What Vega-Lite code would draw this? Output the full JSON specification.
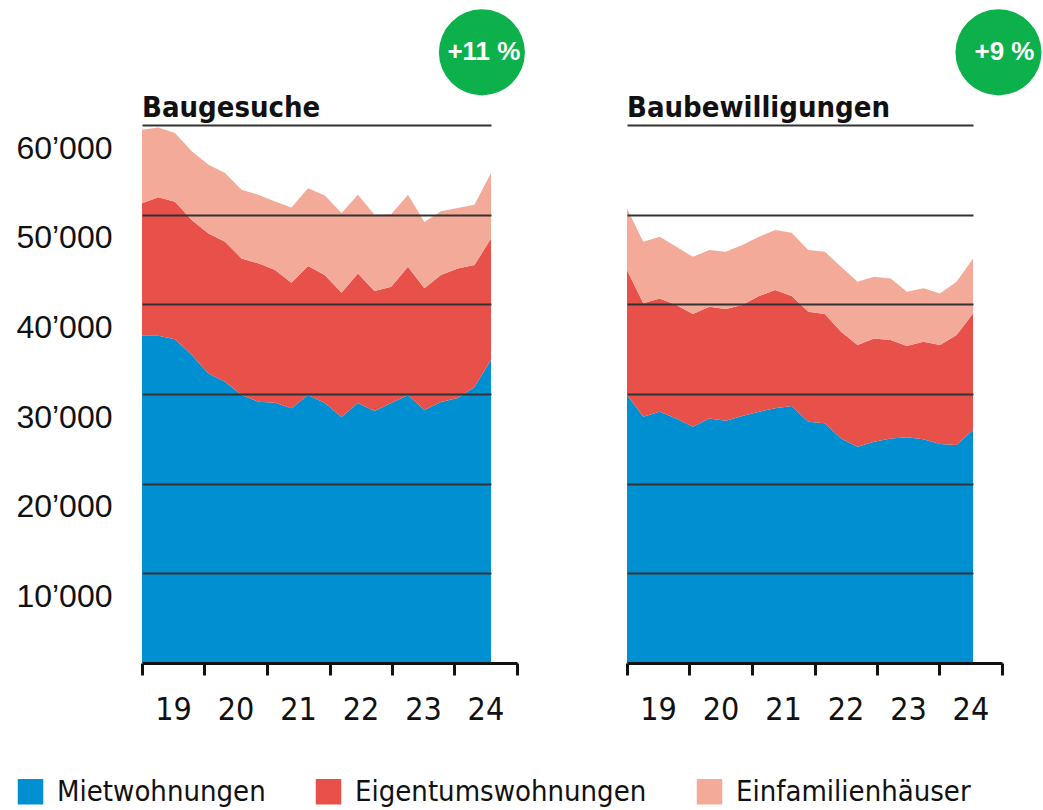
{
  "$schema": "https://vega.github.io/schema/vega-lite/v6.json",
  "padding": {"left": 15, "top": 9, "right": 0, "bottom": 0},
  "background": "white",
  "spacing": 77,
  "config": {"view": {"stroke": null}, "font": "Liberation Sans"},
  "datasets": {
    "typen": [
      {"typ": "Mietwohnungen", "rang": 1},
      {"typ": "Eigentumswohnungen", "rang": 2},
      {"typ": "Einfamilienhäuser", "rang": 3}
    ],
    "jahre": [
      {"jahr": "2019-01-01"}, {"jahr": "2020-01-01"}, {"jahr": "2021-01-01"}, {"jahr": "2022-01-01"},
      {"jahr": "2023-01-01"}, {"jahr": "2024-01-01"}, {"jahr": "2025-01-01"}
    ],
    "baugesuche": [
      {"quartal": "2019-01-01", "Mietwohnungen": 36500, "Eigentumswohnungen": 14760, "Einfamilienhäuser": 8200},
      {"quartal": "2019-04-01", "Mietwohnungen": 36500, "Eigentumswohnungen": 15430, "Einfamilienhäuser": 7800},
      {"quartal": "2019-07-01", "Mietwohnungen": 36100, "Eigentumswohnungen": 15340, "Einfamilienhäuser": 7660},
      {"quartal": "2019-10-01", "Mietwohnungen": 34340, "Eigentumswohnungen": 15060, "Einfamilienhäuser": 7660},
      {"quartal": "2020-01-01", "Mietwohnungen": 32300, "Eigentumswohnungen": 15610, "Einfamilienhäuser": 7650},
      {"quartal": "2020-04-01", "Mietwohnungen": 31370, "Eigentumswohnungen": 15610, "Einfamilienhäuser": 7660},
      {"quartal": "2020-07-01", "Mietwohnungen": 29880, "Eigentumswohnungen": 15240, "Einfamilienhäuser": 7650},
      {"quartal": "2020-10-01", "Mietwohnungen": 29140, "Eigentumswohnungen": 15430, "Einfamilienhäuser": 7650},
      {"quartal": "2021-01-01", "Mietwohnungen": 29020, "Eigentumswohnungen": 14800, "Einfamilienhäuser": 7660},
      {"quartal": "2021-04-01", "Mietwohnungen": 28400, "Eigentumswohnungen": 14000, "Einfamilienhäuser": 8410},
      {"quartal": "2021-07-01", "Mietwohnungen": 29880, "Eigentumswohnungen": 14390, "Einfamilienhäuser": 8690},
      {"quartal": "2021-10-01", "Mietwohnungen": 28990, "Eigentumswohnungen": 14270, "Einfamilienhäuser": 8890},
      {"quartal": "2022-01-01", "Mietwohnungen": 27430, "Eigentumswohnungen": 13860, "Einfamilienhäuser": 8890},
      {"quartal": "2022-04-01", "Mietwohnungen": 28990, "Eigentumswohnungen": 14460, "Einfamilienhäuser": 8770},
      {"quartal": "2022-07-01", "Mietwohnungen": 28100, "Eigentumswohnungen": 13380, "Einfamilienhäuser": 8510},
      {"quartal": "2022-10-01", "Mietwohnungen": 28990, "Eigentumswohnungen": 12970, "Einfamilienhäuser": 8100},
      {"quartal": "2023-01-01", "Mietwohnungen": 29880, "Eigentumswohnungen": 14310, "Einfamilienhäuser": 8030},
      {"quartal": "2023-04-01", "Mietwohnungen": 28210, "Eigentumswohnungen": 13570, "Einfamilienhäuser": 7390},
      {"quartal": "2023-07-01", "Mietwohnungen": 29100, "Eigentumswohnungen": 14160, "Einfamilienhäuser": 7110},
      {"quartal": "2023-10-01", "Mietwohnungen": 29550, "Eigentumswohnungen": 14460, "Einfamilienhäuser": 6720},
      {"quartal": "2024-01-01", "Mietwohnungen": 30770, "Eigentumswohnungen": 13610, "Einfamilienhäuser": 6720},
      {"quartal": "2024-04-01", "Mietwohnungen": 33780, "Eigentumswohnungen": 13570, "Einfamilienhäuser": 7290}
    ],
    "baubewilligungen": [
      {"quartal": "2019-01-01", "Mietwohnungen": 29880, "Eigentumswohnungen": 13940, "Einfamilienhäuser": 6880},
      {"quartal": "2019-04-01", "Mietwohnungen": 27460, "Eigentumswohnungen": 12650, "Einfamilienhäuser": 6870},
      {"quartal": "2019-07-01", "Mietwohnungen": 28020, "Eigentumswohnungen": 12640, "Einfamilienhäuser": 6870},
      {"quartal": "2019-10-01", "Mietwohnungen": 27280, "Eigentumswohnungen": 12640, "Einfamilienhäuser": 6500},
      {"quartal": "2020-01-01", "Mietwohnungen": 26350, "Eigentumswohnungen": 12560, "Einfamilienhäuser": 6390},
      {"quartal": "2020-04-01", "Mietwohnungen": 27280, "Eigentumswohnungen": 12450, "Einfamilienhäuser": 6320},
      {"quartal": "2020-07-01", "Mietwohnungen": 27020, "Eigentumswohnungen": 12450, "Einfamilienhäuser": 6390},
      {"quartal": "2020-10-01", "Mietwohnungen": 27540, "Eigentumswohnungen": 12380, "Einfamilienhäuser": 6690},
      {"quartal": "2021-01-01", "Mietwohnungen": 28020, "Eigentumswohnungen": 12900, "Einfamilienhäuser": 6610},
      {"quartal": "2021-04-01", "Mietwohnungen": 28400, "Eigentumswohnungen": 13190, "Einfamilienhäuser": 6690},
      {"quartal": "2021-07-01", "Mietwohnungen": 28660, "Eigentumswohnungen": 12260, "Einfamilienhäuser": 7060},
      {"quartal": "2021-10-01", "Mietwohnungen": 26910, "Eigentumswohnungen": 12260, "Einfamilienhäuser": 6880},
      {"quartal": "2022-01-01", "Mietwohnungen": 26730, "Eigentumswohnungen": 12180, "Einfamilienhäuser": 6950},
      {"quartal": "2022-04-01", "Mietwohnungen": 25050, "Eigentumswohnungen": 11890, "Einfamilienhäuser": 7250},
      {"quartal": "2022-07-01", "Mietwohnungen": 24120, "Eigentumswohnungen": 11340, "Einfamilienhäuser": 7060},
      {"quartal": "2022-10-01", "Mietwohnungen": 24680, "Eigentumswohnungen": 11520, "Einfamilienhäuser": 6870},
      {"quartal": "2023-01-01", "Mietwohnungen": 25050, "Eigentumswohnungen": 10970, "Einfamilienhäuser": 6870},
      {"quartal": "2023-04-01", "Mietwohnungen": 25170, "Eigentumswohnungen": 10180, "Einfamilienhäuser": 6050},
      {"quartal": "2023-07-01", "Mietwohnungen": 24940, "Eigentumswohnungen": 10890, "Einfamilienhäuser": 5950},
      {"quartal": "2023-10-01", "Mietwohnungen": 24420, "Eigentumswohnungen": 11040, "Einfamilienhäuser": 5760},
      {"quartal": "2024-01-01", "Mietwohnungen": 24310, "Eigentumswohnungen": 12260, "Einfamilienhäuser": 5950},
      {"quartal": "2024-04-01", "Mietwohnungen": 25980, "Eigentumswohnungen": 13010, "Einfamilienhäuser": 6130}
    ]
  },
  "hconcat": [
    {
      "width": 375,
      "height": 538,
      "layer": [
        {
          "data": {"name": "baugesuche"},
          "transform": [
            {"fold": ["Mietwohnungen", "Eigentumswohnungen", "Einfamilienhäuser"], "as": ["typ", "anzahl"]},
            {"lookup": "typ", "from": {"data": {"name": "typen"}, "key": "typ", "fields": ["rang"]}}
          ],
          "layer": [
            {
              "mark": {"type": "area"},
              "encoding": {
                "x": {"field": "quartal", "type": "temporal", "scale": {"type": "utc", "domain": [{"year": 2019, "month": 1, "date": 1, "utc": true}, {"year": 2024, "month": 4, "date": 1, "utc": true}], "range": [0, 349]}, "axis": null},
                "y": {"field": "anzahl", "type": "quantitative", "stack": "zero", "scale": {"domain": [0, 60000]},
                  "axis": {"values": [10000, 20000, 30000, 40000, 50000, 60000], "labelExpr": "replace(format(datum.value, ','), ',', '’')", "labelFont": "Liberation Sans", "labelFontSize": 32, "labelColor": "#111111", "labelBaseline": "top", "labelOffset": 8, "labelPadding": 30, "labelFlush": false, "labelOverlap": false, "ticks": false, "domain": false, "grid": true, "gridColor": "#333333", "gridWidth": 1.8, "title": null, "zindex": 1}},
                "color": {"field": "typ", "type": "nominal", "scale": {"domain": ["Mietwohnungen", "Eigentumswohnungen", "Einfamilienhäuser"], "range": ["#008fd1", "#e8514a", "#f4aa98"]},
                  "legend": {"orient": "none", "legendX": -126, "legendY": 652, "direction": "horizontal", "title": null, "symbolType": "square", "symbolSize": 650, "symbolStrokeWidth": 0, "labelFont": "DejaVu Sans Condensed", "labelFontSize": 29, "labelColor": "#111111", "labelOffset": 12, "columnPadding": 48, "labelLimit": 0, "padding": 0}},
                "order": {"field": "rang", "type": "quantitative"}
              }
            },
            {
              "data": {"values": [{"titel": "Baugesuche"}]},
              "mark": {"type": "text", "font": "DejaVu Sans Condensed", "fontWeight": "bold", "fontSize": 29, "color": "#111111", "align": "left", "baseline": "alphabetic", "dy": -8, "clip": false},
              "encoding": {
                "x": {"datum": {"year": 2019, "month": 1, "date": 1, "utc": true}, "type": "temporal"},
                "y": {"datum": 60000, "type": "quantitative"},
                "text": {"field": "titel"}
              }
            },
            {
              "data": {"values": [{"aenderung": "+11 %"}]},
              "mark": {"type": "point", "shape": "circle", "filled": true, "size": 7400, "opacity": 1, "color": "#0db14b", "clip": false},
              "encoding": {
                "x": {"datum": {"year": 2024, "month": 2, "date": 11, "utc": true}, "type": "temporal"},
                "y": {"datum": 68100, "type": "quantitative"}
              }
            },
            {
              "data": {"values": [{"aenderung": "+11 %"}]},
              "mark": {"type": "text", "font": "Liberation Sans", "fontWeight": "bold", "fontSize": 26, "color": "white", "align": "center", "baseline": "middle", "dx": 2, "clip": false},
              "encoding": {
                "x": {"datum": {"year": 2024, "month": 2, "date": 11, "utc": true}, "type": "temporal"},
                "y": {"datum": 68100, "type": "quantitative"},
                "text": {"field": "aenderung"}
              }
            }
          ]
        },
        {
          "data": {"name": "jahre"},
          "mark": {"type": "rule", "opacity": 0},
          "encoding": {
            "x": {"field": "jahr", "type": "temporal", "scale": {"type": "utc", "domain": [{"year": 2019, "month": 1, "date": 1, "utc": true}, {"year": 2025, "month": 1, "date": 1, "utc": true}]},
              "axis": {"orient": "bottom", "values": [{"year": 2019, "utc": true}, {"year": 2020, "utc": true}, {"year": 2021, "utc": true}, {"year": 2022, "utc": true}, {"year": 2023, "utc": true}, {"year": 2024, "utc": true}, {"year": 2025, "utc": true}],
                "labelExpr": "utcyear(datum.value) < 2025 ? utcFormat(datum.value, '%y') : ''", "labelOffset": 31, "labelFont": "DejaVu Sans Condensed", "labelFontSize": 32, "labelColor": "#111111", "labelPadding": 19, "labelFlush": false, "labelOverlap": false, "labelBound": false,
                "tickSize": 12, "tickWidth": 3, "tickColor": "#111111", "domainColor": "#111111", "domainWidth": 3, "grid": false, "title": null, "zindex": 1}}
          }
        }
      ],
      "resolve": {"scale": {"x": "independent"}}
    },
    {
      "width": 375,
      "height": 538,
      "layer": [
        {
          "data": {"name": "baubewilligungen"},
          "transform": [
            {"fold": ["Mietwohnungen", "Eigentumswohnungen", "Einfamilienhäuser"], "as": ["typ", "anzahl"]},
            {"lookup": "typ", "from": {"data": {"name": "typen"}, "key": "typ", "fields": ["rang"]}}
          ],
          "layer": [
            {
              "mark": {"type": "area"},
              "encoding": {
                "x": {"field": "quartal", "type": "temporal", "scale": {"type": "utc", "domain": [{"year": 2019, "month": 1, "date": 1, "utc": true}, {"year": 2024, "month": 4, "date": 1, "utc": true}], "range": [0, 346]}, "axis": null},
                "y": {"field": "anzahl", "type": "quantitative", "stack": "zero", "scale": {"domain": [0, 60000]},
                  "axis": {"values": [10000, 20000, 30000, 40000, 50000, 60000], "labels": false, "ticks": false, "domain": false, "grid": true, "gridColor": "#333333", "gridWidth": 1.8, "title": null, "zindex": 1}},
                "color": {"field": "typ", "type": "nominal", "scale": {"domain": ["Mietwohnungen", "Eigentumswohnungen", "Einfamilienhäuser"], "range": ["#008fd1", "#e8514a", "#f4aa98"]},
                  "legend": {"orient": "none", "legendX": -126, "legendY": 652, "direction": "horizontal", "title": null, "symbolType": "square", "symbolSize": 650, "symbolStrokeWidth": 0, "labelFont": "DejaVu Sans Condensed", "labelFontSize": 29, "labelColor": "#111111", "labelOffset": 12, "columnPadding": 48, "labelLimit": 0, "padding": 0}},
                "order": {"field": "rang", "type": "quantitative"}
              }
            },
            {
              "data": {"values": [{"titel": "Baubewilligungen"}]},
              "mark": {"type": "text", "font": "DejaVu Sans Condensed", "fontWeight": "bold", "fontSize": 29, "color": "#111111", "align": "left", "baseline": "alphabetic", "dy": -8, "clip": false},
              "encoding": {
                "x": {"datum": {"year": 2019, "month": 1, "date": 1, "utc": true}, "type": "temporal"},
                "y": {"datum": 60000, "type": "quantitative"},
                "text": {"field": "titel"}
              }
            },
            {
              "data": {"values": [{"aenderung": "+9 %"}]},
              "mark": {"type": "point", "shape": "circle", "filled": true, "size": 7400, "opacity": 1, "color": "#0db14b", "clip": false},
              "encoding": {
                "x": {"datum": {"year": 2024, "month": 8, "date": 20, "utc": true}, "type": "temporal"},
                "y": {"datum": 68100, "type": "quantitative"}
              }
            },
            {
              "data": {"values": [{"aenderung": "+9 %"}]},
              "mark": {"type": "text", "font": "Liberation Sans", "fontWeight": "bold", "fontSize": 26, "color": "white", "align": "center", "baseline": "middle", "dx": 6, "clip": false},
              "encoding": {
                "x": {"datum": {"year": 2024, "month": 8, "date": 20, "utc": true}, "type": "temporal"},
                "y": {"datum": 68100, "type": "quantitative"},
                "text": {"field": "aenderung"}
              }
            }
          ]
        },
        {
          "data": {"name": "jahre"},
          "mark": {"type": "rule", "opacity": 0},
          "encoding": {
            "x": {"field": "jahr", "type": "temporal", "scale": {"type": "utc", "domain": [{"year": 2019, "month": 1, "date": 1, "utc": true}, {"year": 2025, "month": 1, "date": 1, "utc": true}]},
              "axis": {"orient": "bottom", "values": [{"year": 2019, "utc": true}, {"year": 2020, "utc": true}, {"year": 2021, "utc": true}, {"year": 2022, "utc": true}, {"year": 2023, "utc": true}, {"year": 2024, "utc": true}, {"year": 2025, "utc": true}],
                "labelExpr": "utcyear(datum.value) < 2025 ? utcFormat(datum.value, '%y') : ''", "labelOffset": 31, "labelFont": "DejaVu Sans Condensed", "labelFontSize": 32, "labelColor": "#111111", "labelPadding": 19, "labelFlush": false, "labelOverlap": false, "labelBound": false,
                "tickSize": 12, "tickWidth": 3, "tickColor": "#111111", "domainColor": "#111111", "domainWidth": 3, "grid": false, "title": null, "zindex": 1}}
          }
        }
      ],
      "resolve": {"scale": {"x": "independent"}}
    }
  ]
}
